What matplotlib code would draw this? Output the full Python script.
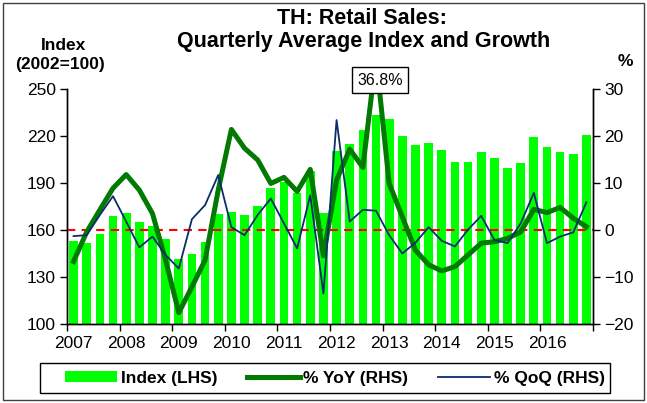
import matplotlib
matplotlib.use("Agg")
import matplotlib.pyplot as plt
import numpy as np
from matplotlib.patches import Rectangle

plt.rcParams['font.family'] = ['Liberation Sans', 'DejaVu Sans']

years = ['2007', '2008', '2009', '2010', '2011', '2012', '2013', '2014', '2015', '2016']

index_vals = [153.0, 151.7, 157.3, 168.8, 171.1, 165.0, 162.6, 154.0,
              141.3, 144.7, 152.2, 170.2, 171.5, 169.6, 175.1, 187.0,
              190.6, 183.6, 197.5, 170.7, 210.6, 214.7, 224.0, 233.4,
              231.0, 219.8, 214.0, 215.5, 210.9, 203.2, 203.6, 210.0,
              205.7, 199.8, 202.8, 219.4, 213.0, 210.0, 208.3, 220.6]

yoy_vals = [-6.7, -0.4, 4.3, 8.9, 11.8, 8.5, 3.5, -6.4,
            -17.6, -12.1, -6.4, 8.5, 21.4, 17.4, 14.9, 9.9,
            11.2, 8.2, 12.9, -5.5, 10.6, 17.2, 13.3, 36.8,
            9.9, 2.8, -4.3, -7.4, -8.7, -7.8, -5.3, -2.8,
            -2.5, -1.8, -0.4, 4.4, 3.7, 4.8, 2.5, 0.7]

qoq_vals = [-1.3, -1.1, 3.2, 7.2, 1.8, -3.7, -1.4, -5.3,
            -8.2, 2.3, 5.3, 11.7, 0.6, -1.1, 3.2, 6.7,
            1.4, -3.9, 7.4, -13.5, 23.4, 1.8, 4.3, 4.1,
            -1.1, -5.0, -2.7, 0.6, -2.3, -3.5, 0.1, 3.0,
            -2.1, -2.8, 1.4, 7.9, -2.8, -1.4, -0.5, 5.9]

peak_label = '36.8%'

W, H = 647, 403
fig = plt.figure(figsize=(W / 100, H / 100), dpi=100)
fig.patch.set_facecolor('white')

# outer frame
fig.add_artist(Rectangle((3 / W, 3 / H), (W - 6) / W, (H - 6) / H,
                         transform=fig.transFigure, fill=False,
                         edgecolor='#404040', linewidth=1.0))

ax1 = fig.add_axes([67 / W, (H - 324) / H, (593 - 67) / W, (324 - 89) / H])
ax2 = ax1.twinx()

n = len(index_vals)
x = np.arange(n)

ax1.bar(x, np.array(index_vals) - 100, bottom=100, width=0.66, color='#00FF00',
        edgecolor='none', zorder=2, label='Index (LHS)')
ax1.set_ylim(100, 250)
ax1.set_yticks(np.arange(100, 251, 30))
ax1.set_xlim(-0.5, n - 0.5)

ax2.axhline(0, color='#FF0000', linestyle=(0, (4, 3)), linewidth=1.5, zorder=1)
ax2.plot(x, yoy_vals, color='#007A00', linewidth=3.6, zorder=3,
         label='% YoY (RHS)')
ax2.plot(x, qoq_vals, color='#0A2D6E', linewidth=1.3, zorder=4,
         label='% QoQ (RHS)')
ax2.set_ylim(-20, 30)
ax2.set_yticks(np.arange(-20, 31, 10))

# x ticks: boundaries as major ticks, year labels at Q1 positions
ax1.set_xticks(np.arange(-0.5, n, 4))
ax1.set_xticklabels([''] * len(np.arange(-0.5, n, 4)))
ax1.set_xticks(np.arange(0, n, 4), minor=True)
ax1.set_xticklabels(years, minor=True)
ax1.tick_params(axis='x', which='minor', length=0, pad=9, labelsize=12.5)
ax1.tick_params(axis='x', which='major', direction='out', length=5, width=1)
ax1.tick_params(axis='y', direction='out', length=5, width=1, labelsize=12.5, pad=3)
ax2.tick_params(axis='y', direction='out', length=5, width=1, labelsize=12.5, pad=3)

for a in (ax1, ax2):
    a.spines['top'].set_visible(False)
    for s in ('left', 'right', 'bottom'):
        a.spines[s].set_color('black')
        a.spines[s].set_linewidth(1.0)

ax2.patch.set_visible(False)

# peak annotation box
peak_i = int(np.argmax(yoy_vals))
ax2.annotate(peak_label, xy=(peak_i + 0.3, 31.9), xycoords='data',
             ha='center', va='center', fontsize=11.5, annotation_clip=False,
             bbox=dict(boxstyle='square,pad=0.35', facecolor='white',
                       edgecolor='black', linewidth=1.0), zorder=10)

# titles and axis labels
fig.text(362 / W, 1 - 18 / H, 'TH: Retail Sales:', ha='center', va='center',
         fontsize=15.5, fontweight='bold')
fig.text(364 / W, 1 - 42 / H, 'Quarterly Average Index and Growth', ha='center',
         va='center', fontsize=15.5, fontweight='bold')
fig.text(63 / W, 1 - 45 / H, 'Index', ha='center', va='center', fontsize=12.5,
         fontweight='bold')
fig.text(60 / W, 1 - 64 / H, '(2002=100)', ha='center', va='center', fontsize=12.5,
         fontweight='bold')
fig.text(625 / W, 1 - 61 / H, '%', ha='center', va='center', fontsize=12.5,
         fontweight='bold')

# legend with manually drawn frame
fig.add_artist(Rectangle((40 / W, (H - 393) / H), 570 / W, 30 / H,
                         transform=fig.transFigure, fill=False,
                         edgecolor='black', linewidth=1.0))
h1, l1 = ax1.get_legend_handles_labels()
h2, l2 = ax2.get_legend_handles_labels()
leg = fig.legend(h1 + h2, l1 + l2, loc='center',
                 bbox_to_anchor=(335 / W, (H - 378) / H),
                 ncol=3, frameon=False,
                 prop={'weight': 'bold', 'size': 12.5},
                 handlelength=3.0, handleheight=0.6, borderaxespad=0,
                 borderpad=0.0, handletextpad=0.2, columnspacing=1.75)

fig.savefig('out.png', dpi=100, facecolor='white')
